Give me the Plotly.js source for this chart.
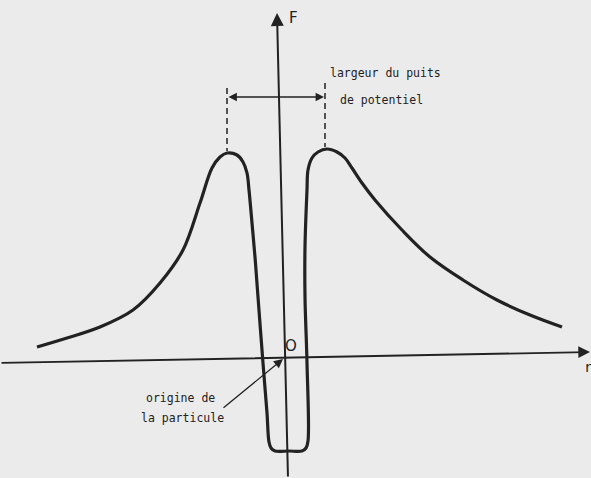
<!DOCTYPE html>
<html>
<head>
<meta charset="utf-8">
<script src="https://cdn.plot.ly/plotly-3.0.1.min.js"></script>
<style>html,body{margin:0;padding:0;background:#ebebeb;}#chart{width:591px;height:478px;}</style>
</head>
<body>
<div id="chart"></div>
<script>
// Potential-well force curve F(r) (origin O at 0,0)
var curveR = [-246,-216,-183,-150,-123,-100,-83,-71,-63,-56,-46,-40,-36,-34,-31,-28,-25,-20,-16,-14,-12,-8,6,19,23,25,24,22,22,24,25,29,35,44,54,62,69,79,92,119,147,180,214,247,279];
var curveF = [11,20,31,48,75,108,155,190,201,205,203,196,185,168,135,101,61,-5,-55,-84,-90,-93,-93,-93,-90,-83,-5,61,111,168,188,200,206,209,206,200,190,175,158,128,101,78,58,43,31];
var labels = {F: 'F', r: 'r', O: 'O', width1: 'largeur du puits', width2: 'de potentiel', origin1: 'origine de', origin2: 'la particule'};

var ink = '#222222';
var font = {family: '"DejaVu Sans Mono", monospace', size: 11.5, color: ink};

var trace = {x: curveR, y: curveF, type: 'scatter', mode: 'lines',
  line: {color: ink, width: 3.2, shape: 'spline', smoothing: 1}, hoverinfo: 'skip'};

var layout = {
  width: 591, height: 478,
  margin: {l: 0, r: 0, t: 0, b: 0},
  paper_bgcolor: '#ebebeb', plot_bgcolor: '#ebebeb',
  showlegend: false,
  xaxis: {range: [-283, 308], visible: false, fixedrange: true},
  yaxis: {range: [-120, 358], visible: false, fixedrange: true},
  shapes: [
    {type: 'line', x0: -56, y0: 270, x1: -56, y1: 207, line: {color: ink, width: 1.5, dash: '6px,4px'}},
    {type: 'line', x0: 42, y0: 275, x1: 42, y1: 211, line: {color: ink, width: 1.5, dash: '6px,4px'}}
  ],
  annotations: [
    {x: -6, y: 345, ax: 5, ay: -120, xref: 'x', yref: 'y', axref: 'x', ayref: 'y', text: '', showarrow: true,
     arrowhead: 2, arrowsize: 1.3, arrowwidth: 2, arrowcolor: ink},
    {x: 307, y: 6, ax: -283, ay: -5, xref: 'x', yref: 'y', axref: 'x', ayref: 'y', text: '', showarrow: true,
     arrowhead: 2, arrowsize: 1.3, arrowwidth: 1.8, arrowcolor: ink},
    {x: 41, y: 261, ax: -56, ay: 261, xref: 'x', yref: 'y', axref: 'x', ayref: 'y', text: '', showarrow: true,
     arrowhead: 2, startarrowhead: 2, arrowside: 'end+start', arrowsize: 1.2, startarrowsize: 1.2, arrowwidth: 1.4, arrowcolor: ink},
    {x: 0, y: -1, ax: -61, ay: -51, xref: 'x', yref: 'y', axref: 'x', ayref: 'y', text: '', showarrow: true,
     arrowhead: 2, arrowsize: 1.4, arrowwidth: 1.3, arrowcolor: ink},
    {x: 10, y: 340, xref: 'x', yref: 'y', text: labels.F, showarrow: false, xanchor: 'center', yanchor: 'middle', font: {family: '"DejaVu Sans", sans-serif', size: 15, color: ink}},
    {x: 8, y: 12, xref: 'x', yref: 'y', text: labels.O, showarrow: false, xanchor: 'center', yanchor: 'middle', font: {family: '"DejaVu Sans", sans-serif', size: 15, color: ink}},
    {x: 299, y: -9, xref: 'x', yref: 'y', text: labels.r, showarrow: false, xanchor: 'left', yanchor: 'middle', font: {family: font.family, size: 14, color: ink}},
    {x: 45, y: 285, xref: 'x', yref: 'y', text: labels.width1, showarrow: false, xanchor: 'left', yanchor: 'middle', font: font},
    {x: 55, y: 258, xref: 'x', yref: 'y', text: labels.width2, showarrow: false, xanchor: 'left', yanchor: 'middle', font: font},
    {x: -103, y: -40, xref: 'x', yref: 'y', text: labels.origin1, showarrow: false, xanchor: 'center', yanchor: 'middle', font: font},
    {x: -101, y: -60, xref: 'x', yref: 'y', text: labels.origin2, showarrow: false, xanchor: 'center', yanchor: 'middle', font: font}
  ]
};

Plotly.newPlot('chart', [trace], layout, {displayModeBar: false, staticPlot: true});
</script>
</body>
</html>
